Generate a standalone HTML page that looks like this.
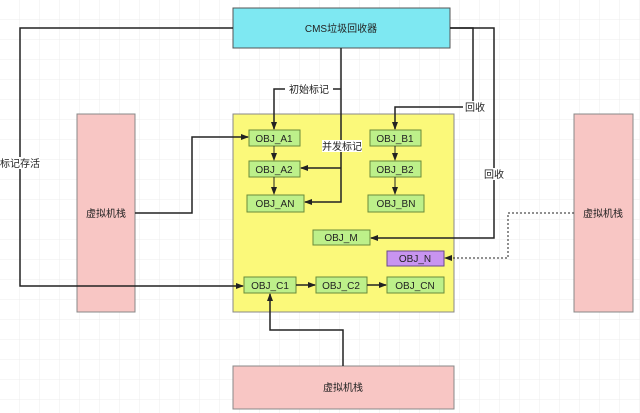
<!DOCTYPE html>
<html><head><meta charset="utf-8"><style>
body{margin:0;background:#fff}
svg{display:block}
text{font-family:"Liberation Sans","Noto Sans CJK SC",sans-serif;font-size:10px;fill:#222}
</style></head><body>
<svg width="640" height="413" viewBox="0 0 640 413">
<defs>
<pattern id="g" width="20" height="20" patternUnits="userSpaceOnUse"><path d="M20 0V20H0" fill="none" stroke="#ececec" stroke-width="1"/></pattern>
<marker id="a" markerWidth="8" markerHeight="8" refX="7" refY="4" orient="auto" markerUnits="userSpaceOnUse"><path d="M0,1 L8,4 L0,7 Z" fill="#222"/></marker>
</defs>
<rect width="640" height="413" fill="url(#g)"/>
<rect x="233" y="8" width="217" height="40" fill="#7ee8f2" stroke="#555"/>
<text x="341" y="32" text-anchor="middle">CMS垃圾回收器</text>
<rect x="77" y="114" width="58" height="198" fill="#f8c6c4" stroke="#888"/>
<text x="106" y="217" text-anchor="middle">虚拟机栈</text>
<rect x="574" y="114" width="59" height="198" fill="#f8c6c4" stroke="#888"/>
<text x="603" y="217" text-anchor="middle">虚拟机栈</text>
<rect x="233" y="366" width="221" height="43" fill="#f8c6c4" stroke="#888"/>
<text x="343" y="391" text-anchor="middle">虚拟机栈</text>
<rect x="233" y="114" width="221" height="198" fill="#fbf97a" stroke="#888"/>
<g fill="#bdf08a" stroke="#6a8a3a">
<rect x="249" y="130" width="51" height="16"/>
<rect x="249" y="161" width="51" height="16"/>
<rect x="247" y="195" width="57" height="17"/>
<rect x="370" y="130" width="51" height="16"/>
<rect x="370" y="161" width="51" height="16"/>
<rect x="368" y="195" width="56" height="17"/>
<rect x="313" y="230" width="57" height="15"/>
<rect x="244" y="277" width="52" height="16"/>
<rect x="316" y="277" width="51" height="16"/>
<rect x="387" y="277" width="57" height="16"/>
</g>
<rect x="387" y="251" width="57" height="15" fill="#c894f0" stroke="#6a4a8a"/>
<g text-anchor="middle">
<text x="274" y="142">OBJ_A1</text><text x="274" y="173">OBJ_A2</text><text x="275" y="207">OBJ_AN</text>
<text x="395" y="142">OBJ_B1</text><text x="395" y="173">OBJ_B2</text><text x="396" y="207">OBJ_BN</text>
<text x="341" y="241">OBJ_M</text><text x="415" y="262">OBJ_N</text>
<text x="270" y="289">OBJ_C1</text><text x="341" y="289">OBJ_C2</text><text x="415" y="289">OBJ_CN</text>
</g>
<g fill="none" stroke="#222" stroke-width="1.5">
<path d="M233 28H20V286H243" marker-end="url(#a)"/>
<path d="M341 48V202H305" marker-end="url(#a)"/>
<path d="M341 168H301" marker-end="url(#a)"/>
<path d="M341 89H274V129" marker-end="url(#a)"/>
<path d="M450 28H473V107H395V129" marker-end="url(#a)"/>
<path d="M450 28H494V238H371" marker-end="url(#a)"/>
<path d="M135 213H192V137H248" marker-end="url(#a)"/>
<path d="M343 366V330H270V294" marker-end="url(#a)"/>
<path d="M296 285H315" marker-end="url(#a)"/>
<path d="M367 285H386" marker-end="url(#a)"/>
</g>
<g fill="none" stroke="#222" stroke-width="1">
<path d="M274 146V160" marker-end="url(#a)"/>
<path d="M274 177V194" marker-end="url(#a)"/>
<path d="M395 146V160" marker-end="url(#a)"/>
<path d="M395 177V194" marker-end="url(#a)"/>
<path d="M574 213H508V258H445" stroke-dasharray="2,2" marker-end="url(#a)"/>
</g>
<rect x="285" y="83" width="48" height="12" fill="#fff"/>
<text x="309" y="93" text-anchor="middle">初始标记</text>
<rect x="322" y="140" width="40" height="12" fill="#fff"/>
<text x="342" y="150" text-anchor="middle">并发标记</text>
<rect x="463" y="101" width="24" height="12" fill="#fff"/>
<text x="475" y="111" text-anchor="middle">回收</text>
<rect x="483" y="168" width="22" height="12" fill="#fff"/>
<text x="494" y="178" text-anchor="middle">回收</text>
<rect x="0" y="157" width="40" height="12" fill="#fff"/>
<text x="20" y="167" text-anchor="middle">标记存活</text>
</svg>
</body></html>
